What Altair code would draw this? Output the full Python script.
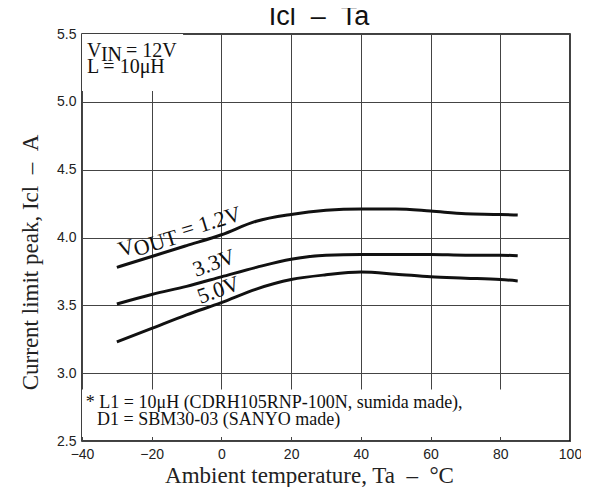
import altair as alt
import pandas as pd

# Data
temps = [-30, -20, -10, 0, 10, 20, 30, 40, 50, 60, 70, 80, 85]
v12 = [3.78, 3.86, 3.94, 4.02, 4.12, 4.17, 4.20, 4.21, 4.21, 4.195, 4.175, 4.17, 4.165]
v33 = [3.51, 3.58, 3.64, 3.71, 3.78, 3.84, 3.87, 3.875, 3.875, 3.875, 3.87, 3.87, 3.865]
v50 = [3.23, 3.33, 3.43, 3.52, 3.62, 3.69, 3.725, 3.745, 3.73, 3.71, 3.70, 3.69, 3.68]
series_names = ["1.2V", "3.3V", "5.0V"]

x_ticks = [-40, -20, 0, 20, 40, 60, 80, 100]
y_ticks = [2.5, 3.0, 3.5, 4.0, 4.5, 5.0, 5.5]

rows = []
for name, vals in zip(series_names, [v12, v33, v50]):
    for t, v in zip(temps, vals):
        rows.append({"Ta": t, "Icl": v, "series": name})
df = pd.DataFrame(rows)

SERIF = "Liberation Serif"
SANS = "Liberation Sans"
INK = "#111111"
SP = "\u00a0\u00a0"

xs = alt.Scale(domain=[-40, 100], nice=False, zero=False)
ys = alt.Scale(domain=[2.5, 5.5], nice=False, zero=False)

base = alt.Chart(df)

lines = base.mark_line(color=INK, strokeWidth=3, interpolate="monotone").encode(
    x=alt.X("Ta:Q", scale=xs,
            axis=alt.Axis(values=x_ticks, title=f"Ambient temperature, Ta{SP}\u2013{SP}\u00b0C",
                          grid=True, ticks=False, labelPadding=6, domain=False, labelFlush=False,
                          titleX=227, titleY=41, titleBaseline="alphabetic",
                          titleAnchor="start", titleAlign="center")),
    y=alt.Y("Icl:Q", scale=ys,
            axis=alt.Axis(values=y_ticks, format=".1f", title=f"Current limit peak, Icl{SP}\u2013{SP}A",
                          grid=True, ticks=False, labelPadding=6, domain=False, labelFlush=False,
                          titleX=-52, titleY=228, titleAngle=-90, titleAlign="center",
                          titleBaseline="middle", titleAnchor="start")),
    detail="series:N",
)

# white boxes behind the annotations (hide grid)
boxes = pd.DataFrame({
    "x1": [-40, -40], "x2": [-11, 85],
    "y1": [5.5, 2.88], "y2": [5.08, 2.53],
})
box_layer = alt.Chart(boxes).mark_rect(color="white").encode(
    x=alt.X("x1:Q", scale=xs), x2="x2:Q", y=alt.Y("y1:Q", scale=ys), y2="y2:Q"
)

def txt(text, x, y, dx=0, dy=0, size=18, angle=0):
    return alt.Chart(pd.DataFrame({"t": [text]})).mark_text(
        font=SERIF, fontSize=size, align="left", baseline="alphabetic",
        color=INK, dx=dx, dy=dy, angle=angle
    ).encode(x=alt.X(datum=x, scale=xs), y=alt.Y(datum=y, scale=ys), text="t:N")

ann = [
    txt("V", -38.6, 5.333, size=20),
    txt("IN", -38.6, 5.333, dx=14, dy=4, size=20),
    txt("= 12V", -38.6, 5.333, dx=39, size=20),
    txt("L = 10\u03bcH", -38.6, 5.215, size=20),
    txt("* L1 = 10\u03bcH (CDRH105RNP-100N, sumida made),", -38.9, 2.74),
    txt("D1 = SBM30-03 (SANYO made)", -35.7, 2.62),
    txt("V", -28.9, 3.856, size=22, angle=343),
    txt("OUT", -28.9, 3.856, dx=15, dy=4, size=22, angle=343),
    txt("= 1.2V", -28.9, 3.856, dx=66, size=22, angle=343),
    txt("3.3V", -7.3, 3.709, size=22, angle=340),
    txt("5.0V", -6.0, 3.51, size=22, angle=340),
]

title = alt.Chart(pd.DataFrame({"t": [f"Icl{SP}\u2013{SP}Ta"]})).mark_text(
    font=SANS, fontSize=27, align="center", baseline="alphabetic", color=INK
).encode(x=alt.value(237), y=alt.value(-9), text="t:N")

chart = alt.layer(box_layer, lines, *ann, title).properties(
    width=488, height=407,
    autosize=alt.AutoSizeParams(type="none"),
    padding={"left": 74, "top": 26, "right": 11, "bottom": 46},
).configure_view(stroke="black", strokeWidth=1.5).configure_axis(
    gridColor="#444444", gridWidth=1, gridOpacity=1,
    labelFont=SANS, labelFontSize=14, labelColor="#222222",
    titleFont=SERIF, titleFontSize=23, titleFontWeight="normal", titleColor="#222222",
)

chart.save("out.html", embed_options={"renderer": "svg", "actions": False})
